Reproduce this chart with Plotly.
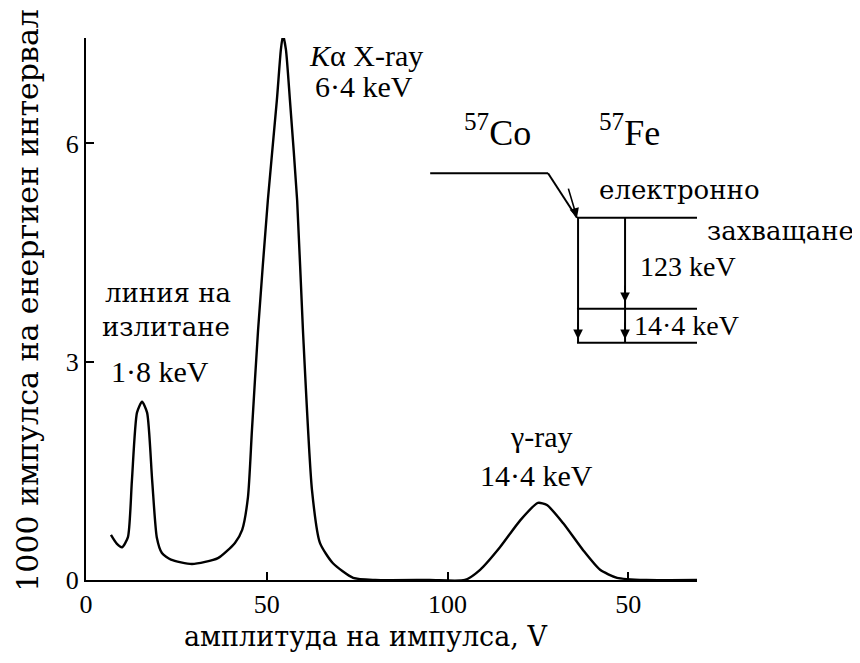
import plotly.graph_objects as go

# Spectrum (pulse amplitude, V  vs  1000 counts per energy interval)
amp = [6.9, 8.5, 10.0, 11.6, 12.7, 14.1, 15.5, 16.9, 18.3, 19.6, 21.0, 23.5, 29.3, 36.5,
       41.2, 43.2, 44.8, 45.9, 47.6, 50.3, 52.8, 53.9, 54.5, 55.3, 56.4, 58.4, 60.0,
       62.5, 64.7, 68.3, 73.9, 80.0, 95.0, 104.8, 109.0, 114.5, 120.1, 125.0, 127.5,
       132.0, 137.5, 142.2, 146.9, 155.0, 169.0]
counts = [0.62, 0.50, 0.45, 0.59, 1.37, 2.30, 2.45, 2.30, 1.37, 0.58, 0.37, 0.28, 0.22, 0.30,
          0.51, 0.69, 1.14, 2.06, 3.44, 5.22, 6.60, 7.29, 7.49, 7.29, 6.60, 5.22, 3.44,
          1.24, 0.51, 0.23, 0.03, 0.0, 0.0, 0.0, 0.14, 0.45, 0.82, 1.06, 1.03,
          0.78, 0.41, 0.14, 0.03, 0.0, 0.0]

x_tickvals = [0, 50, 100, 150]
x_ticktext = ["0", "50", "100", "50"]
y_tickvals = [0, 3, 6]
y_ticktext = ["0", "3", "6"]

# Level-scheme inset (drawn in data units)
co_level_x = [95.2, 127.8]
co_level_y = [5.59, 5.59]
capture_x = [127.8, 135.8]
capture_y = [5.59, 4.98]
fe_levels_y = [4.98, 3.73, 3.26]
fe_level_x = [135.8, 169.0]
trans_x = [136.1, 149.1]
arrow_tips = [(136.1, 3.31), (149.1, 3.82), (149.1, 3.31)]

SERIF = "Liberation Serif"
CYR = "DejaVu Serif"
fig = go.Figure()
fig.add_trace(go.Scatter(x=amp, y=counts, mode="lines",
                         line=dict(color="black", width=2.4, shape="spline", smoothing=0.6),
                         hoverinfo="skip", showlegend=False))

lw = 2.0
fig.add_trace(go.Scatter(x=co_level_x, y=co_level_y, mode="lines",
                         line=dict(color="black", width=lw), showlegend=False))
fig.add_trace(go.Scatter(x=capture_x, y=capture_y, mode="lines",
                         line=dict(color="black", width=lw), showlegend=False))
for ly in fe_levels_y:
    fig.add_trace(go.Scatter(x=fe_level_x, y=[ly, ly], mode="lines",
                             line=dict(color="black", width=lw), showlegend=False))
for tx in trans_x:
    fig.add_trace(go.Scatter(x=[tx, tx], y=[fe_levels_y[0], fe_levels_y[-1]], mode="lines",
                             line=dict(color="black", width=lw), showlegend=False))

# arrowheads
arrows = [(capture_x[1], capture_y[1], capture_x[0] + 5.5, capture_y[0] - 0.19)]
for (ax_, ay_) in arrow_tips:
    arrows.append((ax_, ay_, ax_, ay_ + 0.25))
for (hx, hy, tx, ty) in arrows:
    fig.add_annotation(x=hx, y=hy, ax=tx, ay=ty, xref="x", yref="y", axref="x", ayref="y",
                       text="", showarrow=True, arrowhead=2, arrowsize=1.2, arrowwidth=1.6,
                       arrowcolor="black")

# text labels (paper coordinates)
labels = [
    ("<i>K</i>α X-ray", 0.458, 0.967, 30, SERIF),
    ("6·4 keV", 0.455, 0.911, 30, SERIF),
    ("линия на", 0.134, 0.530, 26, CYR),
    ("излитане", 0.131, 0.467, 26, CYR),
    ("1·8 keV", 0.121, 0.384, 30, SERIF),
    ("γ-ray", 0.745, 0.264, 30, SERIF),
    ("14·4 keV", 0.738, 0.192, 30, SERIF),
    ("<sup>57</sup>Co", 0.673, 0.830, 36, SERIF),
    ("<sup>57</sup>Fe", 0.890, 0.830, 36, SERIF),
    ("електронно", 0.972, 0.720, 26, CYR),
    ("захващане", 1.136, 0.644, 26, CYR),
    ("123 keV", 0.985, 0.578, 28, SERIF),
    ("14·4 keV", 0.982, 0.469, 28, SERIF),
]
for (t, lx, ly, fs, fam) in labels:
    fig.add_annotation(x=lx, y=ly, xref="paper", yref="paper", text=t, showarrow=False,
                       xanchor="center", yanchor="middle",
                       font=dict(family=fam, size=fs, color="black"))

# axis titles
fig.add_annotation(x=-0.095, y=0.517, xref="paper", yref="paper", textangle=-90,
                   xanchor="center", yanchor="middle",
                   text="1000 импулса на енергиен интервал", showarrow=False,
                   font=dict(family=CYR, size=30, color="black"))
fig.add_annotation(x=0.458, y=-0.105, xref="paper", yref="paper",
                   xanchor="center", yanchor="middle",
                   text="амплитуда на импулса, V", showarrow=False,
                   font=dict(family=CYR, size=27, color="black"))

fig.update_layout(
    width=860, height=663,
    margin=dict(l=78, r=171, t=30, b=91),
    paper_bgcolor="white", plot_bgcolor="white",
    font=dict(family=SERIF, color="black"),
    showlegend=False,
)
fig.update_xaxes(range=[0, 169], showgrid=False, zeroline=False, showline=True,
                 linecolor="black", linewidth=2, ticks="inside", ticklen=8,
                 tickwidth=1.5, tickcolor="black", tickvals=x_tickvals, ticktext=x_ticktext,
                 tickfont=dict(family=SERIF, size=26))
fig.update_yaxes(range=[0, 7.45], showgrid=False, zeroline=False, showline=True,
                 linecolor="black", linewidth=2, ticks="inside", ticklen=8,
                 tickwidth=1.5, tickcolor="black", tickvals=y_tickvals, ticktext=y_ticktext,
                 tickfont=dict(family=SERIF, size=26))

fig.write_html("out.html")
